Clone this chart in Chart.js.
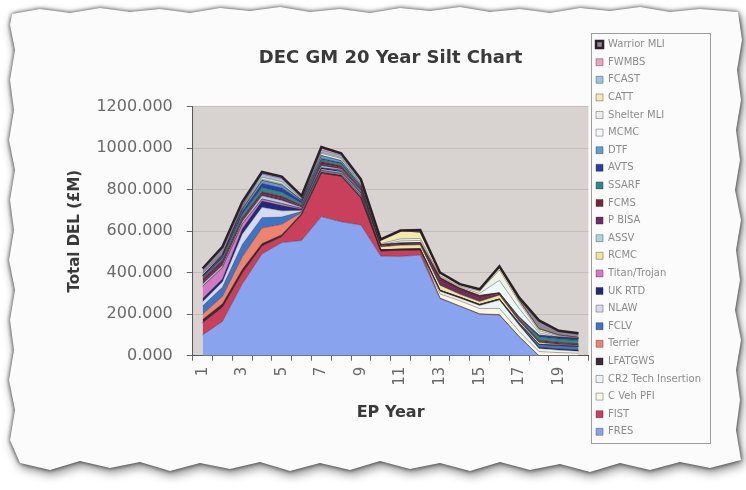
<!DOCTYPE html>
<html>
<head>
<meta charset="utf-8">
<title>DEC GM 20 Year Silt Chart</title>
<script src="https://cdn.jsdelivr.net/npm/chart.js@4/dist/chart.umd.min.js"></script>
<style>
  html, body { margin: 0; padding: 0; width: 746px; height: 490px; overflow: hidden; background: #ffffff; }
  #sheetShadow {
    position: absolute; left: 0; top: 0; width: 746px; height: 490px;
    filter: drop-shadow(0 0 2px rgba(0,0,0,0.75)) drop-shadow(2px 4px 5px rgba(0,0,0,0.45));
  }
  #sheet {
    position: absolute; left: 0; top: 0; width: 746px; height: 490px; background: #fbfbfb;
    clip-path: polygon(
      12px 14px, 40px 9px, 70px 13px, 100px 8px, 130px 12px, 160px 9px, 190px 13px, 220px 8px, 250px 11px,
      280px 7px, 310px 12px, 340px 9px, 370px 13px, 400px 8px, 430px 11px, 460px 7px, 490px 12px, 520px 9px,
      550px 13px, 580px 8px, 610px 11px, 640px 7px, 670px 12px, 700px 9px, 738px 12px,
      742px 40px, 737px 70px, 741px 100px, 736px 130px, 740px 160px, 735px 190px, 741px 220px, 736px 250px,
      740px 280px, 735px 310px, 741px 340px, 736px 370px, 740px 400px, 736px 430px, 741px 460px,
      710px 468px, 680px 462px, 650px 470px, 620px 463px, 590px 472px, 560px 464px, 530px 470px, 500px 462px,
      470px 471px, 440px 463px, 410px 469px, 380px 461px, 350px 470px, 320px 463px, 290px 471px, 260px 462px,
      230px 469px, 200px 463px, 170px 471px, 140px 462px, 110px 468px, 80px 461px, 50px 470px, 20px 463px,
      10px 440px, 15px 410px, 9px 380px, 14px 350px, 10px 320px, 15px 290px, 9px 260px, 14px 230px,
      10px 200px, 15px 170px, 9px 140px, 14px 110px, 10px 80px, 15px 50px, 10px 25px);
  }
  #chartBox { position: absolute; left: 0; top: 0; width: 746px; height: 490px; }
</style>
</head>
<body>
<div id="sheetShadow"><div id="sheet"></div></div>
<div id="chartBox"><canvas id="silt" width="746" height="490"></canvas></div>
<script>
// EP years on the category axis
const years = ['1','2','3','4','5','6','7','8','9','10','11','12','13','14','15','16','17','18','19','20'];

// Total DEL (£M) per programme and EP year, stacked bottom to top
const fres      = [100,165,345,490,545,555,670,645,630,480,478,485,275,238,200,196, 92,  0,  0,  0];
const fist      = [ 60, 70, 55, 40, 30,125,210,220,130, 25, 30, 25,  3,  2,  2,  2,  0,  0,  0,  0];
const cVehPfi   = [  0,  0,  0,  0,  0,  0,  0,  0,  0,  0,  0,  0, 20, 25, 25, 30, 25, 20, 15, 12];
const cr2Tech   = [  0,  0,  0,  0,  0,  0,  0,  0,  0,  0,  0,  0, 12, 12, 15, 40, 30, 15, 12, 10];
const lfatgws   = [ 15, 15, 15, 10,  8,  5,  5,  5,  5,  5,  5,  5,  5,  5,  5,  5,  5,  5,  5,  5];
const terrier   = [ 25, 35, 60, 75, 50,  5,  5,  5,  5,  0,  0,  0,  0,  0,  0,  0,  0,  0,  0,  0];
const fclv      = [ 40, 45, 60, 50, 35,  5,  5,  5,  5,  0,  0,  0,  0,  0,  0,  0,  5, 15, 18, 18];
const nlaw      = [ 20, 25, 50, 50, 30,  5,  5,  5,  5,  0,  0,  0,  0,  0,  0,  0,  0,  0,  0,  0];
const ukRtd     = [ 15, 15, 25, 30, 25,  5,  5,  5,  5,  0,  0,  0,  0,  0,  0,  0,  0,  0,  0,  0];
const titan     = [ 60, 55, 25, 10, 10,  5,  0,  5,  5,  0,  0,  0,  0,  0,  0,  0,  0,  0,  0,  0];
const rcmc      = [  0,  0,  0,  0,  0,  0,  0,  0,  0, 15, 20, 20, 25, 15, 15, 20, 10, 10,  5,  5];
const assv      = [ 10, 10, 10, 15, 15,  5, 10,  5,  5,  0,  0,  0,  0,  0,  0,  0,  0,  0,  0,  0];
const pBisa     = [ 10, 10, 10, 10, 10,  5, 10,  5,  5,  5,  5,  5, 20, 15, 15,  5,  5,  5,  5,  5];
const fcms      = [ 15, 15, 10, 10, 10,  5, 10, 10,  5,  5,  5,  5, 15, 13, 13,  5,  5,  5,  5,  3];
const ssarf     = [  5, 10, 15, 20, 20, 10, 10, 10,  5,  0,  0,  0,  0,  0,  0,  0,  5, 15, 15, 15];
const avts      = [ 10, 10, 15, 20, 20, 10,  5,  5,  5,  0,  0,  0,  0,  0,  0,  0,  5, 10, 10, 10];
const dtf       = [  0,  5, 10, 15, 15,  5, 15, 10,  5,  0,  0,  0,  0,  0,  0,  0,  0,  0,  0,  0];
const mcmc      = [  0,  0,  0,  0,  0,  0,  0,  0,  0,  0, 10, 10,  5,  5, 10, 60, 40, 10,  0,  0];
const shelter   = [  0,  0,  0,  5,  5,  0, 10, 10,  5,  5, 10, 10,  5,  5, 10, 50, 30, 10,  5,  0];
const catt      = [  0,  0,  5, 10, 10,  5,  5,  5,  5, 20, 40, 30, 15, 10, 10, 17, 10, 10,  5,  5];
const fcast     = [  0,  0,  5, 15, 15,  5, 10, 10, 10,  0,  0,  0,  0,  0,  0,  0,  0,  0,  0,  0];
const fwmbs     = [ 10,  5,  5,  5,  5,  5, 10,  7,  5,  0,  0,  0,  0,  0,  0,  0,  0,  0,  0,  0];
const warrior   = [ 25, 35, 20,  5,  5,  5,  5,  3,  5,  0,  0, 10,  0,  0,  0,  0, 13, 40, 20, 20];

// Value axis ticks
const yTicks = [0, 200, 400, 600, 800, 1000, 1200];

// Programme names with their data, in stacking order
const series = [
  ['FRES', fres], ['FIST', fist], ['C Veh PFI', cVehPfi], ['CR2 Tech Insertion', cr2Tech],
  ['LFATGWS', lfatgws], ['Terrier', terrier], ['FCLV', fclv], ['NLAW', nlaw], ['UK RTD', ukRtd],
  ['Titan/Trojan', titan], ['RCMC', rcmc], ['ASSV', assv], ['P BISA', pBisa], ['FCMS', fcms],
  ['SSARF', ssarf], ['AVTS', avts], ['DTF', dtf], ['MCMC', mcmc], ['Shelter MLI', shelter],
  ['CATT', catt], ['FCAST', fcast], ['FWMBS', fwmbs], ['Warrior MLI', warrior]
];

// Fill colours per programme
const fills = {
  'FRES': '#8aa3ee', 'FIST': '#c9405c', 'C Veh PFI': '#fbf7e2', 'CR2 Tech Insertion': '#e9f6f8',
  'LFATGWS': '#3e2a3c', 'Terrier': '#ee8470', 'FCLV': '#3f74c4', 'NLAW': '#d5daf4',
  'UK RTD': '#23297a', 'Titan/Trojan': '#d479c4', 'RCMC': '#efe4a0', 'ASSV': '#a6d6dc',
  'P BISA': '#6b2d66', 'FCMS': '#7c2436', 'SSARF': '#2f8a86', 'AVTS': '#2b3fa6',
  'DTF': '#5e9fd2', 'MCMC': '#eef8f8', 'Shelter MLI': '#e9f4e6', 'CATT': '#f3e8b0',
  'FCAST': '#9cc3ea', 'FWMBS': '#eea3c1', 'Warrior MLI': '#8f8698'
};

const datasets = series.map(([name, values], i) => {
  const top = i === series.length - 1;
  return {
    label: name,
    data: values,
    backgroundColor: fills[name],
    borderColor: top ? '#2b2227' : 'rgba(45,30,40,0.45)',
    borderWidth: top ? 2.5 : 0.8,
    fill: i === 0 ? 'origin' : '-1',
    pointRadius: 0,
    pointHoverRadius: 0,
    tension: 0
  };
});

// Grey plot-area background behind the areas
const plotBackground = {
  id: 'plotBackground',
  beforeDraw(chart) {
    const {ctx, chartArea: a} = chart;
    ctx.save();
    ctx.fillStyle = '#d8d3d1';
    ctx.fillRect(a.left, a.top, a.right - a.left, a.bottom - a.top);
    ctx.restore();
  }
};

// Thin frame round the legend
const legendFrame = {
  id: 'legendFrame',
  afterDraw(chart) {
    const lg = chart.legend;
    if (!lg || !lg.legendHitBoxes || !lg.legendHitBoxes.length) return;
    const boxes = lg.legendHitBoxes;
    const first = boxes[0], last = boxes[boxes.length - 1];
    const {ctx} = chart;
    ctx.save();
    ctx.strokeStyle = '#9d9d9d';
    ctx.lineWidth = 1;
    const x0 = Math.round(lg.left + 3) + 0.5;
    const y0 = Math.round(first.top - 7) + 0.5;
    const x1 = Math.round(lg.right - 1) + 0.5;
    const y1 = Math.round(last.top + last.height + 6) + 0.5;
    ctx.strokeRect(x0, y0, x1 - x0, y1 - y0);
    ctx.restore();
  }
};

Chart.defaults.font.family = '"DejaVu Sans", "Liberation Sans", Arial, sans-serif';

new Chart(document.getElementById('silt'), {
  type: 'line',
  data: { labels: years, datasets },
  plugins: [plotBackground, legendFrame],
  options: {
    responsive: false,
    animation: false,
    events: [],
    layout: { padding: { left: 20, top: 32, right: 35, bottom: 40 } },
    plugins: {
      filler: { drawTime: 'beforeDatasetsDraw' },
      tooltip: { enabled: false },
      title: {
        display: true,
        text: 'DEC GM 20 Year Silt Chart',
        fullSize: false,
        color: '#3a3a3a',
        font: { size: 18, weight: 'bold' },
        padding: { top: 16, bottom: 37 }
      },
      legend: {
        position: 'right',
        align: 'start',
        reverse: true,
        labels: {
          boxWidth: 7,
          boxHeight: 7,
          padding: 7.6,
          color: '#8c8c8c',
          font: { size: 10 }
        }
      }
    },
    scales: {
      x: {
        offset: true,
        grid: {
          display: true,
          offset: true,
          drawOnChartArea: false,
          drawTicks: true,
          tickLength: 5,
          tickColor: '#666'
        },
        border: { display: true, color: '#555', width: 1 },
        ticks: {
          autoSkip: false,
          minRotation: 90,
          maxRotation: 90,
          padding: 6,
          color: '#6a6a6a',
          font: { size: 15 },
          callback: (value, index) => (index % 2 === 0 ? years[index] : '')
        },
        title: {
          display: true,
          text: 'EP Year',
          color: '#3a3a3a',
          font: { size: 16, weight: 'bold' },
          padding: { top: 11, bottom: 28 }
        }
      },
      y: {
        stacked: true,
        min: yTicks[0],
        max: yTicks[yTicks.length - 1],
        afterBuildTicks: (axis) => { axis.ticks = yTicks.map(v => ({ value: v })); },
        grid: {
          color: '#c3bdba',
          lineWidth: 1,
          tickLength: 6,
          tickColor: '#666'
        },
        border: { display: true, color: '#555', width: 1 },
        ticks: {
          padding: 14,
          color: '#6a6a6a',
          font: { size: 16 },
          callback: (value) => Number(value).toFixed(3)
        },
        title: {
          display: true,
          text: 'Total DEL (£M)',
          color: '#3a3a3a',
          font: { size: 15, weight: 'bold' },
          padding: { top: 46, bottom: 12 }
        }
      }
    }
  }
});
</script>
</body>
</html>
